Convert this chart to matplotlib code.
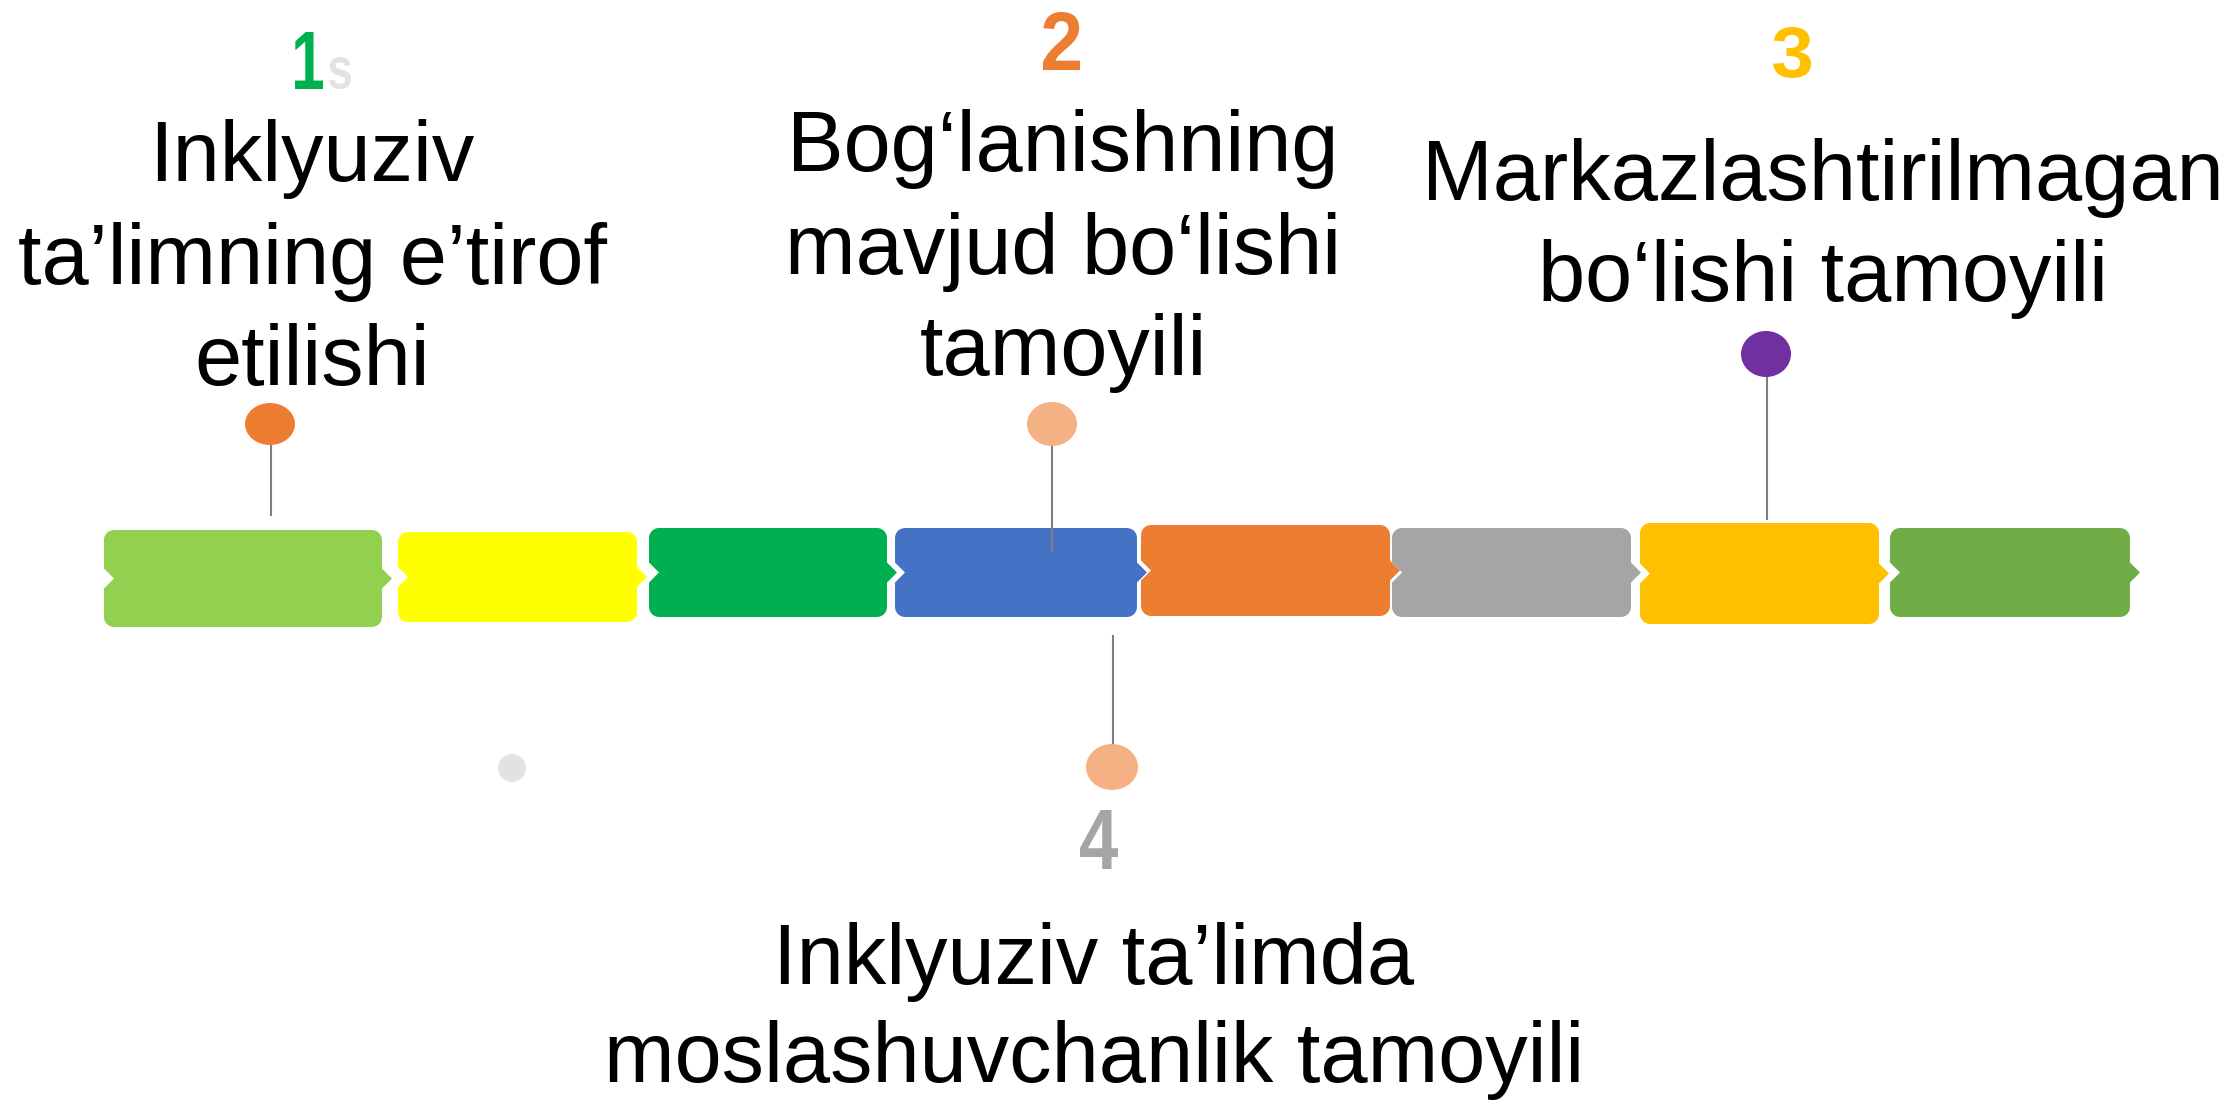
import numpy as np
import matplotlib
matplotlib.use("Agg")
import matplotlib.pyplot as plt
from matplotlib.patches import Polygon, Ellipse, PathPatch
from matplotlib.textpath import TextPath
from matplotlib.font_manager import FontProperties
from matplotlib.transforms import Affine2D

# data
segment_colors = ['#92D050', '#FFFF00', '#00B050', '#4472C4',
                  '#ED7D31', '#A5A5A5', '#FFC000', '#70AD47']
step_numbers = ['1', '2', '3', '4']
number_colors = ['#00B050', '#ED7D31', '#FFC000', '#A5A5A5']
step_labels = [
    ['Inklyuziv', 'ta’limning e’tirof', 'etilishi'],
    ['Bog‘lanishning', 'mavjud bo‘lishi', 'tamoyili'],
    ['Markazlashtirilmagan', 'bo‘lishi tamoyili'],
    ['Inklyuziv ta’limda', 'moslashuvchanlik tamoyili'],
]
pin_colors = ['#ED7D31', '#F4B183', '#7030A0', '#F4B183']

# layout (pixel coords, y down)
seg_x = [(104, 382), (398, 637), (649, 887), (895, 1137),
         (1141, 1390), (1392, 1631), (1640, 1879), (1890, 2130)]
seg_y = [(530, 627), (532, 622), (528, 617), (528, 617),
         (525, 616), (528, 617), (523, 624), (528, 617)]
pin_xy = [(270, 424), (1052, 424), (1766, 354), (1112, 767)]
pin_r = [(25, 21), (25, 22), (25, 23), (26, 23)]
stem_x = [271, 1052, 1767, 1113]
stem_y = [(445, 515), (446, 551), (376, 519), (636, 744)]
# x0, x1, y0, y1 of each number glyph
num_box = [(295, 323, 32, 89), (1043, 1080, 12, 70),
           (1773, 1811, 27, 78), (1080, 1118, 810, 869)]
s_box = (329, 351, 57, 89)
label_x = [312, 1063, 1823, 1094]
label_base = [[181, 284, 385], [171, 274, 375], [200, 301], [984, 1082]]

num_prop = FontProperties(family='Liberation Sans', weight='bold')


def segment_points(x0, x1, y0, y1, r=10, d=10, h=10):
    ym = (y0 + y1) / 2

    def arc(cx, cy, a0, a1):
        t = np.radians(np.linspace(a0, a1, 8))
        return list(zip(cx + r * np.cos(t), cy + r * np.sin(t)))

    pts = arc(x0 + r, y0 + r, 180, 270)
    pts += arc(x1 - r, y0 + r, 270, 360)
    pts += [(x1, ym - h), (x1 + d, ym), (x1, ym + h)]
    pts += arc(x1 - r, y1 - r, 0, 90)
    pts += arc(x0 + r, y1 - r, 90, 180)
    pts += [(x0, ym + h), (x0 + d, ym), (x0, ym - h)]
    return pts


def glyph_in_box(ax, s, box, color):
    # fit a bold glyph into its box (squeezes it like a condensed face)
    x0, x1, y0, y1 = box
    tp = TextPath((0, 0), s, size=100, prop=num_prop)
    ext = tp.get_extents()
    sx = (x1 - x0) / ext.width
    sy = (y1 - y0) / ext.height
    tr = (Affine2D().translate(-ext.x0, -ext.y1).scale(sx, -sy)
          .translate(x0, y0) + ax.transData)
    ax.add_patch(PathPatch(tp, facecolor=color, edgecolor='none',
                           transform=tr, zorder=5))


fig = plt.figure(figsize=(22.36, 11.01), dpi=100)
ax = fig.add_axes([0, 0, 1, 1])
ax.set_xlim(0, 2236)
ax.set_ylim(1101, 0)
ax.axis('off')

for c, (x0, x1), (y0, y1) in zip(segment_colors, seg_x, seg_y):
    ax.add_patch(Polygon(segment_points(x0, x1, y0, y1), closed=True,
                         facecolor=c, edgecolor='none'))

for sx, (y0, y1) in zip(stem_x, stem_y):
    ax.plot([sx, sx], [y0, y1], color='#7F7F7F', lw=1.5, zorder=3)

for c, (cx, cy), (rx, ry) in zip(pin_colors, pin_xy, pin_r):
    ax.add_patch(Ellipse((cx, cy), 2 * rx, 2 * ry, facecolor=c,
                         edgecolor='none', zorder=4))

# small grey dot
ax.add_patch(Ellipse((512, 768), 28, 28, facecolor='#E2E2E2',
                     edgecolor='none', zorder=4))

for n, c, box in zip(step_numbers, number_colors, num_box):
    glyph_in_box(ax, n, box, c)
glyph_in_box(ax, 's', s_box, '#E2E2E2')

for lines, x, bases in zip(step_labels, label_x, label_base):
    for line, b in zip(lines, bases):
        ax.text(x, b, line, fontsize=61, family='Liberation Sans',
                color='black', ha='center', va='baseline')

fig.savefig('out.png', dpi=100)
